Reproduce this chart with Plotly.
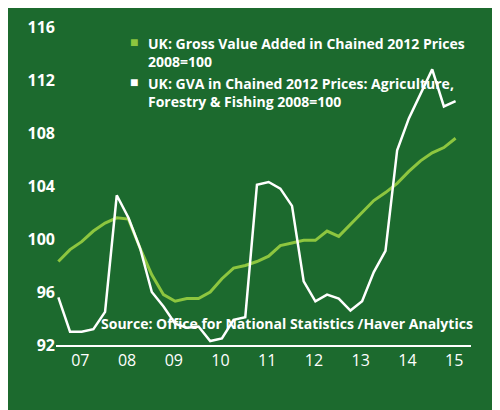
import plotly.graph_objects as go

quarters = [2007 + i * 0.25 for i in range(35)]
gva_total = [98.3, 99.2, 99.8, 100.6, 101.2, 101.6, 101.5, 99.3, 97.3, 95.8, 95.3, 95.5, 95.5, 96.0, 97.0,
             97.8, 98.0, 98.3, 98.7, 99.5, 99.7, 99.9, 99.9, 100.6, 100.2, 101.1, 102.0, 102.9, 103.5,
             104.2, 105.1, 105.9, 106.5, 106.9, 107.6]
gva_agri = [95.6, 93.0, 93.0, 93.2, 94.5, 103.3, 101.6, 99.3, 96.0, 94.9, 93.6, 93.3, 93.4, 92.3, 92.5,
            93.9, 94.1, 104.1, 104.3, 103.8, 102.5, 96.8, 95.3, 95.8, 95.5, 94.6, 95.3, 97.5, 99.1,
            106.7, 109.1, 110.9, 112.8, 110.0, 110.4]
year_ticks = [2007, 2008, 2009, 2010, 2011, 2012, 2013, 2014, 2015]
year_labels = ["07", "08", "09", "10", "11", "12", "13", "14", "15"]
name_total = "UK: Gross Value Added in Chained 2012 Prices<br>2008=100"
name_agri = "UK: GVA in Chained 2012 Prices: Agriculture,<br>Forestry & Fishing 2008=100"

bg = "#1c6a2e"
green = "#8dc63f"
font = "Open Sans, Liberation Sans, sans-serif"
fig = go.Figure()
fig.add_trace(go.Scatter(x=quarters, y=gva_total, mode="lines", line=dict(color=green, width=3),
                         name=name_total))
fig.add_trace(go.Scatter(x=quarters, y=gva_agri, mode="lines", line=dict(color="white", width=2.5),
                         name=name_agri))

ann = []
for color, text, ypx in [(green, name_total, 12), (white := "white", name_agri, 62)]:
    ann.append(dict(text="■", x=88, y=ypx + 12, xref="x domain", yref="paper", showarrow=False,
                    font=dict(size=14, color=color)))
    ann.append(dict(text="<b>" + text + "</b>", x=108 / 500, y=1 - ypx / 410, xref="paper",
                    yref="paper", xanchor="left", yanchor="top", align="left", showarrow=False,
                    font=dict(size=14, color="white")))
# fix legend square positions in paper coords
for i in (0, 2):
    ypx = 12 if i == 0 else 62
    ann[i].update(x=94 / 500, y=1 - (ypx + 12) / 410, xref="paper", yref="paper",
                  xanchor="center", yanchor="middle")
ann.append(dict(text="<b>Source: Office for National Statistics /Haver Analytics</b>",
                x=52 / 500, y=1 - 383 / 410, xref="paper", yref="paper", xanchor="left",
                yanchor="middle", showarrow=False, font=dict(size=14, color="white")))

fig.update_layout(
    width=500, height=410, paper_bgcolor=bg, plot_bgcolor=bg,
    margin=dict(l=48, r=37, t=15, b=73, autoexpand=False),
    font=dict(family=font, color="white", size=14),
    showlegend=False,
    xaxis=dict(range=[2006.95, 2015.83], tickvals=[y + 0.47 for y in year_ticks], ticktext=year_labels,
               showgrid=False, zeroline=False, showline=True, linecolor="white", linewidth=1.5,
               ticks="", tickfont=dict(size=16, color="white"), automargin=False),
    yaxis=dict(range=[92, 116.3], tickvals=[92, 96, 100, 104, 108, 112, 116],
               ticktext=["<b>%d</b>" % v for v in [92, 96, 100, 104, 108, 112, 116]], showgrid=False,
               zeroline=False, ticks="", tickfont=dict(size=16, color="white"), automargin=False),
    annotations=ann,
)
fig.write_html("out.html")
